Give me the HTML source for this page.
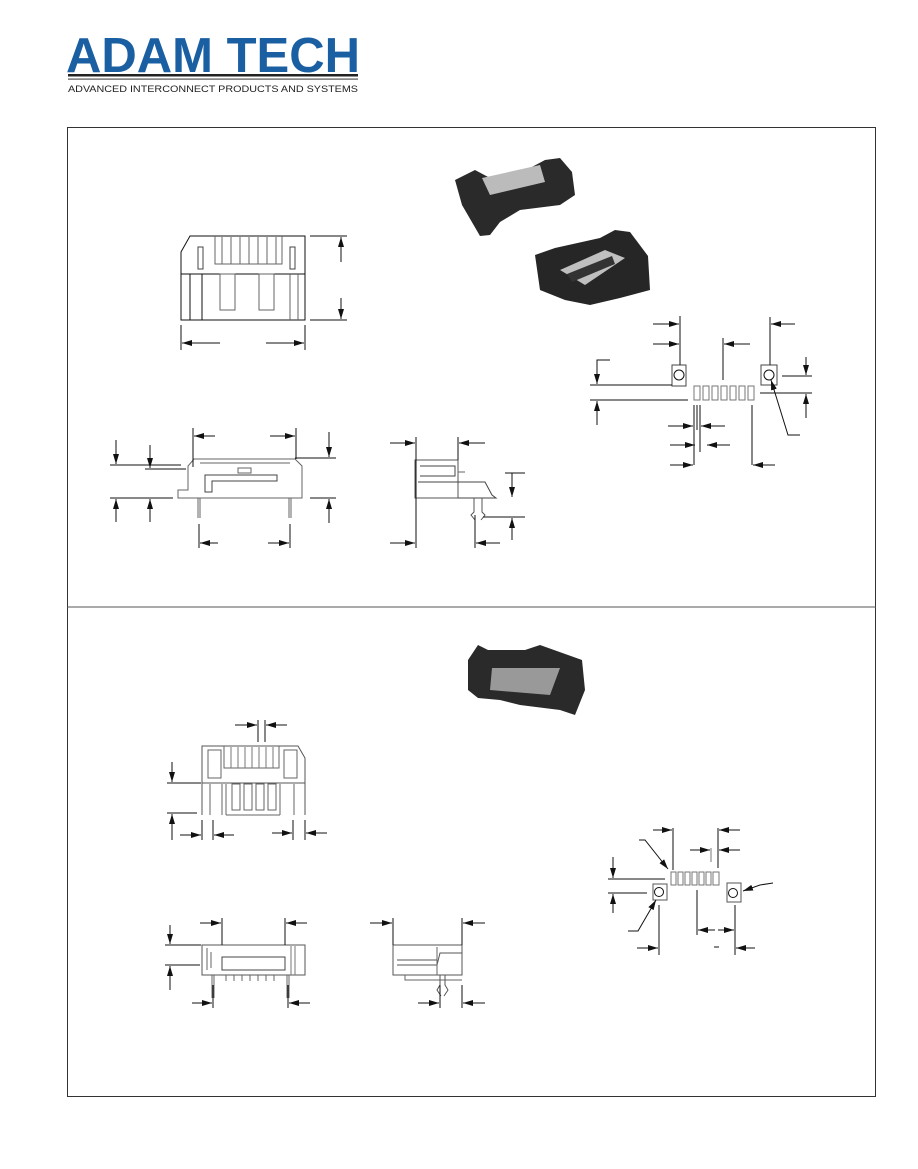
<!DOCTYPE html>
<html><head><meta charset="utf-8"><style>
html,body{margin:0;padding:0;background:#fff;}
svg{display:block;}
</style></head><body>
<svg width="918" height="1169" viewBox="0 0 918 1169" xmlns="http://www.w3.org/2000/svg">
<defs>
<marker id="a" viewBox="0 0 10 6" refX="10" refY="3" markerWidth="10" markerHeight="6" markerUnits="userSpaceOnUse" orient="auto"><path d="M0,0 L10,3 L0,6 z" fill="#111"/></marker>
</defs>
<!-- logo -->
<text x="66" y="72" font-family="Liberation Sans, sans-serif" font-size="49" font-weight="bold" fill="#1b5fa3" textLength="294" lengthAdjust="spacingAndGlyphs">ADAM TECH</text>
<rect x="68" y="74" width="290" height="2.5" fill="#222"/>
<rect x="68" y="78.5" width="290" height="1.2" fill="#555"/>
<text x="68" y="92" font-family="Liberation Sans, sans-serif" font-size="9.2" fill="#222" textLength="290" lengthAdjust="spacingAndGlyphs">ADVANCED INTERCONNECT PRODUCTS AND SYSTEMS</text>
<!-- frame -->
<rect x="67.5" y="127.5" width="808" height="969" fill="none" stroke="#333" stroke-width="1"/>
<line x1="67" y1="607" x2="876" y2="607" stroke="#555" stroke-width="1"/>

<g stroke="#111" stroke-width="1" fill="none">
<!-- photos -->
<g stroke="none">
<polygon points="455,180 475,170 490,178 530,168 545,160 560,158 572,172 575,195 560,205 520,210 500,222 490,235 480,236 462,205" fill="#2a2a2a"/>
<polygon points="482,178 540,165 545,182 490,195" fill="#bbb"/>
<polygon points="535,255 555,248 600,238 615,230 630,232 648,256 650,290 620,298 590,305 565,300 540,290" fill="#262626"/>
<polygon points="560,270 605,250 625,258 585,285" fill="#bfbfbf"/>
<polygon points="567,274 612,256 615,264 572,282" fill="#333"/>
<polygon points="468,660 478,645 488,650 525,650 540,645 582,660 585,690 575,715 560,710 520,705 500,700 478,698 468,690" fill="#2a2a2a"/>
<polygon points="492,668 560,668 550,695 490,690" fill="#999"/>
</g>

<!-- TOP front view -->
<path d="M181,320 L181,252 L190,236 L305,236 L305,320 Z"/>
<line x1="181" y1="274" x2="305" y2="274"/>
<path d="M215,236 L215,264 L282,264 L282,236" stroke="#666"/>
<g stroke="#666"><line x1="222" y1="237" x2="222" y2="264"/><line x1="231" y1="237" x2="231" y2="264"/><line x1="240" y1="237" x2="240" y2="264"/><line x1="249" y1="237" x2="249" y2="264"/><line x1="258" y1="237" x2="258" y2="264"/><line x1="267" y1="237" x2="267" y2="264"/><line x1="276" y1="237" x2="276" y2="264"/></g>
<rect x="198" y="247" width="5" height="22" stroke="#444"/>
<rect x="290" y="247" width="5" height="22" stroke="#444"/>
<line x1="190" y1="274" x2="190" y2="320"/><line x1="202" y1="274" x2="202" y2="320"/>
<line x1="290" y1="274" x2="290" y2="320" stroke="#666"/><line x1="298" y1="274" x2="298" y2="320" stroke="#666"/>
<rect x="220" y="274" width="15" height="36" stroke="#666"/><rect x="259" y="274" width="15" height="36" stroke="#666"/>
<line x1="310" y1="236" x2="347" y2="236"/><line x1="310" y1="320" x2="347" y2="320"/>
<line x1="341" y1="262" x2="341" y2="237" marker-end="url(#a)"/><line x1="341" y1="298" x2="341" y2="319" marker-end="url(#a)"/>
<line x1="181" y1="325" x2="181" y2="350"/><line x1="305" y1="325" x2="305" y2="350"/>
<line x1="220" y1="343" x2="182" y2="343" marker-end="url(#a)"/><line x1="266" y1="343" x2="304" y2="343" marker-end="url(#a)"/>

<!-- TOP side view -->
<path d="M178,498 L178,490 L188,490 L188,466 L194,459 L295,459 L302,466 L302,498 Z" stroke="#666"/>
<path d="M200,463 L290,463" stroke="#666"/>
<rect x="238" y="468" width="13" height="5" stroke="#666"/>
<path d="M205,475 L277,475 L277,481 L212,481 L212,492 L205,492 Z" stroke="#444"/>
<line x1="198" y1="498" x2="198" y2="518" stroke="#666"/><line x1="200" y1="498" x2="200" y2="518" stroke="#666"/>
<line x1="289" y1="498" x2="289" y2="518" stroke="#666"/><line x1="291" y1="498" x2="291" y2="518" stroke="#666"/>
<line x1="193" y1="428" x2="193" y2="467"/><line x1="296" y1="428" x2="296" y2="459"/>
<line x1="215" y1="436" x2="194" y2="436" marker-end="url(#a)"/><line x1="270" y1="436" x2="295" y2="436" marker-end="url(#a)"/>
<line x1="110" y1="465" x2="181" y2="465"/><line x1="145" y1="469" x2="186" y2="469"/><line x1="110" y1="498" x2="173" y2="498"/>
<line x1="116" y1="440" x2="116" y2="464" marker-end="url(#a)"/><line x1="150" y1="445" x2="150" y2="468" marker-end="url(#a)"/>
<line x1="116" y1="522" x2="116" y2="499" marker-end="url(#a)"/><line x1="150" y1="522" x2="150" y2="499" marker-end="url(#a)"/>
<line x1="295" y1="458" x2="336" y2="458"/><line x1="310" y1="498" x2="336" y2="498"/>
<line x1="329" y1="432" x2="329" y2="457" marker-end="url(#a)"/><line x1="329" y1="523" x2="329" y2="499" marker-end="url(#a)"/>
<line x1="199" y1="524" x2="199" y2="548"/><line x1="290" y1="524" x2="290" y2="548"/>
<line x1="218" y1="543" x2="200" y2="543" marker-end="url(#a)"/><line x1="268" y1="543" x2="289" y2="543" marker-end="url(#a)"/>

<!-- TOP right side view -->
<path d="M415,460 L458,460 L458,498 L415,498 Z" stroke="#555"/>
<path d="M420,466 L455,466 L455,476 L420,476" stroke="#444"/>
<path d="M418,482 L485,482 L492,495 L496,498 L458,498" stroke="#444"/>
<line x1="458" y1="472" x2="465" y2="472" stroke="#666"/>
<path d="M474,498 L474,512 L471,515 L475,520 M482,498 L482,512 L485,515 L481,520" stroke="#555"/>
<line x1="416" y1="437" x2="416" y2="548"/><line x1="458" y1="437" x2="458" y2="460"/>
<line x1="390" y1="443" x2="415" y2="443" marker-end="url(#a)"/><line x1="485" y1="443" x2="459" y2="443" marker-end="url(#a)"/>
<line x1="505" y1="473" x2="525" y2="473"/><line x1="512" y1="473" x2="512" y2="497" marker-end="url(#a)"/>
<line x1="483" y1="517" x2="525" y2="517"/><line x1="512" y1="540" x2="512" y2="518" marker-end="url(#a)"/>
<line x1="475" y1="515" x2="475" y2="548"/>
<line x1="390" y1="543" x2="415" y2="543" marker-end="url(#a)"/><line x1="500" y1="543" x2="476" y2="543" marker-end="url(#a)"/>

<!-- TOP footprint -->
<rect x="672" y="365" width="14" height="21" stroke="#444"/><circle cx="679" cy="375" r="5"/>
<rect x="761" y="365" width="16" height="20" stroke="#444"/><circle cx="769" cy="375" r="5"/>
<g stroke="#777"><rect x="694" y="386" width="6" height="14"/><rect x="703" y="386" width="6" height="14"/><rect x="712" y="386" width="6" height="14"/><rect x="721" y="386" width="6" height="14"/><rect x="730" y="386" width="6" height="14"/><rect x="739" y="386" width="6" height="14"/><rect x="748" y="386" width="6" height="14"/></g>
<line x1="680" y1="316" x2="680" y2="365"/><line x1="653" y1="324" x2="679" y2="324" marker-end="url(#a)"/><line x1="653" y1="344" x2="679" y2="344" marker-end="url(#a)"/>
<line x1="723" y1="338" x2="723" y2="380"/><line x1="750" y1="344" x2="724" y2="344" marker-end="url(#a)"/>
<line x1="770" y1="317" x2="770" y2="365"/><line x1="795" y1="324" x2="771" y2="324" marker-end="url(#a)"/>
<line x1="590" y1="385" x2="672" y2="385"/><line x1="590" y1="400" x2="688" y2="400"/>
<path d="M610,360 L597,360 L597,384" marker-end="url(#a)"/><line x1="597" y1="425" x2="597" y2="401" marker-end="url(#a)"/>
<line x1="782" y1="376" x2="812" y2="376"/><line x1="806" y1="357" x2="806" y2="375" marker-end="url(#a)"/>
<line x1="760" y1="393" x2="812" y2="393"/><line x1="806" y1="418" x2="806" y2="394" marker-end="url(#a)"/>
<path d="M800,435 L788,435 L771,380" marker-end="url(#a)"/>
<line x1="694" y1="405" x2="694" y2="465"/><line x1="697" y1="405" x2="697" y2="430"/><line x1="700" y1="405" x2="700" y2="452"/><line x1="752" y1="405" x2="752" y2="465"/>
<line x1="668" y1="426" x2="693" y2="426" marker-end="url(#a)"/><line x1="725" y1="426" x2="701" y2="426" marker-end="url(#a)"/>
<line x1="670" y1="445" x2="695" y2="445" marker-end="url(#a)"/><line x1="730" y1="445" x2="707" y2="445" marker-end="url(#a)"/>
<line x1="670" y1="465" x2="693" y2="465" marker-end="url(#a)"/><line x1="775" y1="465" x2="753" y2="465" marker-end="url(#a)"/>

<!-- BOTTOM front view -->
<path d="M202,815 L202,746 L298,746 L305,758 L305,815" stroke="#555"/>
<line x1="202" y1="783" x2="305" y2="783" stroke="#555"/>
<rect x="208" y="750" width="13" height="28" stroke="#666"/><rect x="284" y="750" width="13" height="28" stroke="#666"/>
<path d="M224,746 L224,768 L279,768 L279,746" stroke="#666"/>
<g stroke="#777"><line x1="231" y1="747" x2="231" y2="768"/><line x1="238" y1="747" x2="238" y2="768"/><line x1="245" y1="747" x2="245" y2="768"/><line x1="252" y1="747" x2="252" y2="768"/><line x1="259" y1="747" x2="259" y2="768"/><line x1="266" y1="747" x2="266" y2="768"/><line x1="273" y1="747" x2="273" y2="768"/></g>
<g stroke="#666"><line x1="210" y1="784" x2="210" y2="815"/><line x1="222" y1="784" x2="222" y2="815"/><line x1="294" y1="784" x2="294" y2="815"/><line x1="226" y1="784" x2="226" y2="815"/><line x1="280" y1="784" x2="280" y2="815"/>
<rect x="232" y="784" width="8" height="26"/><rect x="244" y="784" width="8" height="26"/><rect x="256" y="784" width="8" height="26"/><rect x="268" y="784" width="8" height="26"/><line x1="226" y1="815" x2="280" y2="815"/></g>
<line x1="258" y1="720" x2="258" y2="742"/><line x1="265" y1="720" x2="265" y2="742"/>
<line x1="235" y1="725" x2="257" y2="725" marker-end="url(#a)"/><line x1="287" y1="725" x2="266" y2="725" marker-end="url(#a)"/>
<line x1="167" y1="783" x2="201" y2="783"/><line x1="172" y1="762" x2="172" y2="782" marker-end="url(#a)"/>
<line x1="167" y1="813" x2="197" y2="813"/><line x1="172" y1="840" x2="172" y2="814" marker-end="url(#a)"/>
<line x1="202" y1="820" x2="202" y2="840"/><line x1="213" y1="820" x2="213" y2="840"/>
<line x1="180" y1="835" x2="201" y2="835" marker-end="url(#a)"/><line x1="234" y1="835" x2="214" y2="835" marker-end="url(#a)"/>
<line x1="293" y1="820" x2="293" y2="840"/><line x1="305" y1="820" x2="305" y2="840"/>
<line x1="272" y1="833" x2="292" y2="833" marker-end="url(#a)"/><line x1="327" y1="833" x2="306" y2="833" marker-end="url(#a)"/>

<!-- BOTTOM footprint -->
<g stroke="#777"><rect x="671" y="872" width="5" height="13"/><rect x="678" y="872" width="5" height="13"/><rect x="685" y="872" width="5" height="13"/><rect x="692" y="872" width="5" height="13"/><rect x="699" y="872" width="5" height="13"/><rect x="706" y="872" width="5" height="13"/><rect x="713" y="872" width="6" height="13"/></g>
<rect x="653" y="884" width="14" height="16" stroke="#555"/><circle cx="659" cy="892" r="4.5"/>
<rect x="727" y="883" width="14" height="19" stroke="#555"/><circle cx="733" cy="893" r="4.5"/>
<line x1="673" y1="828" x2="673" y2="870"/><line x1="653" y1="830" x2="672" y2="830" marker-end="url(#a)"/>
<line x1="718" y1="828" x2="718" y2="868"/><line x1="740" y1="830" x2="719" y2="830" marker-end="url(#a)"/>
<line x1="711" y1="848" x2="711" y2="862" stroke="#777"/>
<line x1="690" y1="850" x2="710" y2="850" marker-end="url(#a)"/><line x1="740" y1="850" x2="719" y2="850" marker-end="url(#a)"/>
<line x1="608" y1="879" x2="665" y2="879"/><line x1="613" y1="857" x2="613" y2="878" marker-end="url(#a)"/>
<line x1="608" y1="893" x2="647" y2="893"/><line x1="613" y1="913" x2="613" y2="894" marker-end="url(#a)"/>
<path d="M639,840 L645,840 L668,869" marker-end="url(#a)"/>
<path d="M628,931 L638,931 L656,900" marker-end="url(#a)"/>
<path d="M773,883 L760,885 L743,891" marker-end="url(#a)"/>
<line x1="697" y1="890" x2="697" y2="935"/><line x1="735" y1="905" x2="735" y2="955"/><line x1="659" y1="905" x2="659" y2="955"/>
<line x1="715" y1="930" x2="698" y2="930" marker-end="url(#a)"/><line x1="718" y1="930" x2="734" y2="930" marker-end="url(#a)"/>
<line x1="637" y1="948" x2="658" y2="948" marker-end="url(#a)"/><line x1="755" y1="948" x2="736" y2="948" marker-end="url(#a)"/>
<line x1="714" y1="947" x2="719" y2="947"/>

<!-- BOTTOM side view -->
<path d="M202,975 L202,945 L305,945 L305,975 Z" stroke="#555"/>
<path d="M207,948 L207,970 M211,952 L211,968" stroke="#666"/>
<path d="M222,957 L285,957 L285,970 L222,970 Z" stroke="#444"/>
<line x1="291" y1="946" x2="291" y2="975" stroke="#777"/><line x1="295" y1="946" x2="295" y2="975" stroke="#777"/>
<g stroke="#666"><line x1="226" y1="975" x2="226" y2="981"/><line x1="234" y1="975" x2="234" y2="981"/><line x1="242" y1="975" x2="242" y2="981"/><line x1="250" y1="975" x2="250" y2="981"/><line x1="258" y1="975" x2="258" y2="981"/><line x1="266" y1="975" x2="266" y2="981"/><line x1="274" y1="975" x2="274" y2="981"/>
<line x1="212" y1="975" x2="212" y2="998"/><line x1="214" y1="975" x2="214" y2="998"/><line x1="287" y1="975" x2="287" y2="998"/><line x1="289" y1="975" x2="289" y2="998"/></g>
<line x1="222" y1="918" x2="222" y2="945"/><line x1="285" y1="918" x2="285" y2="945"/>
<line x1="200" y1="923" x2="221" y2="923" marker-end="url(#a)"/><line x1="307" y1="923" x2="286" y2="923" marker-end="url(#a)"/>
<line x1="165" y1="945" x2="201" y2="945"/><line x1="170" y1="925" x2="170" y2="944" marker-end="url(#a)"/>
<line x1="165" y1="965" x2="200" y2="965"/><line x1="170" y1="990" x2="170" y2="966" marker-end="url(#a)"/>
<line x1="213" y1="985" x2="213" y2="1008"/><line x1="288" y1="985" x2="288" y2="1008"/>
<line x1="192" y1="1003" x2="212" y2="1003" marker-end="url(#a)"/><line x1="310" y1="1003" x2="289" y2="1003" marker-end="url(#a)"/>

<!-- BOTTOM right side view -->
<path d="M393,975 L393,945 L462,945 L462,975 Z" stroke="#555"/>
<path d="M397,960 L437,960 M397,965 L437,965 L440,953 L462,953" stroke="#555"/>
<path d="M437,947 L437,975 M405,975 L405,980 L462,980" stroke="#666"/>
<path d="M440,975 L440,985 L437,990 L441,996 M445,975 L445,985 L448,990 L444,996" stroke="#555"/>
<line x1="393" y1="918" x2="393" y2="945"/><line x1="462" y1="918" x2="462" y2="945"/>
<line x1="370" y1="923" x2="392" y2="923" marker-end="url(#a)"/><line x1="485" y1="923" x2="463" y2="923" marker-end="url(#a)"/>
<line x1="440" y1="985" x2="440" y2="1008"/><line x1="462" y1="985" x2="462" y2="1008"/>
<line x1="418" y1="1003" x2="439" y2="1003" marker-end="url(#a)"/><line x1="485" y1="1003" x2="463" y2="1003" marker-end="url(#a)"/>
</g>
</svg>
</body></html>
